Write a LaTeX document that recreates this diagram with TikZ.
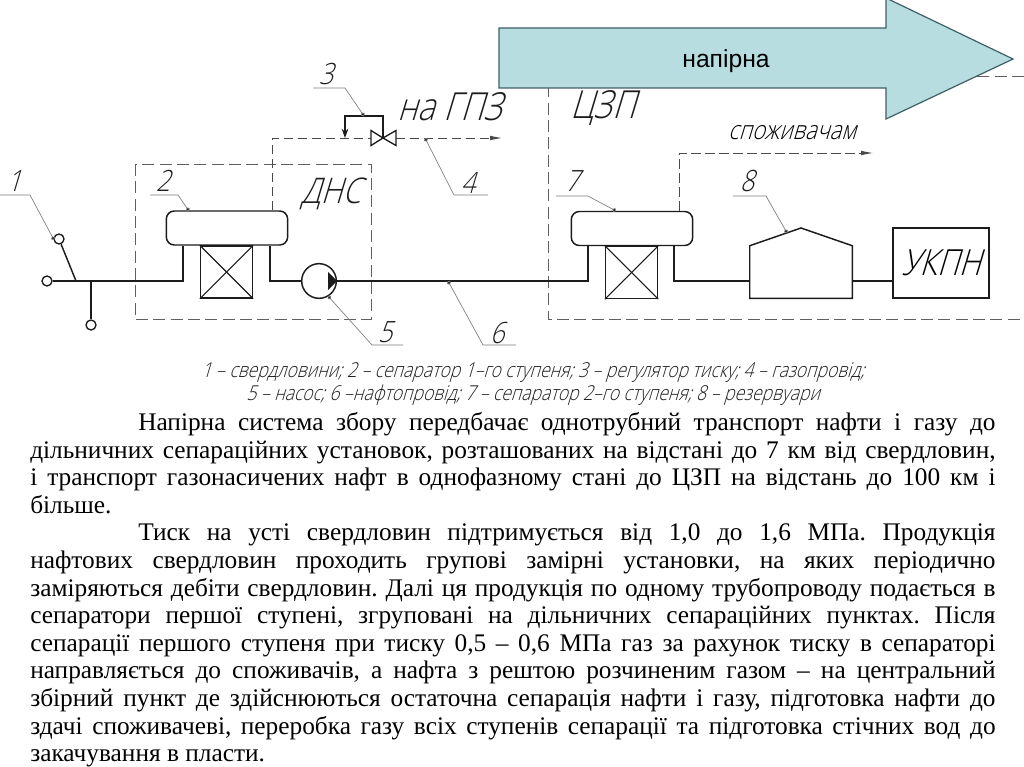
\documentclass[tikz,border=0pt]{standalone}
\usepackage{fontspec}
\setmainfont{Liberation Serif}
\newfontfamily\arialfont{Liberation Sans}
\newfontfamily\cadfont[FakeStretch=0.85,FakeSlant=0.3]{Open Sans Light}
\definecolor{potik}{HTML}{B7DDE0}
\definecolor{rama}{HTML}{3F5F66}
\definecolor{kreslo}{HTML}{1C1C1C}
\definecolor{vynoska}{HTML}{7F7F7F}
\usetikzlibrary{arrows.meta, positioning, calc}
\tikzset{
  pipe/.style={draw=kreslo, line width=1.1pt},
  gasline/.style={draw=kreslo!80, line width=.6pt, dash pattern=on 7pt off 3.5pt, -{Latex[length=9pt,width=3.5pt]}},
  frameline/.style={draw=kreslo!70, line width=.6pt, dash pattern=on 9pt off 4pt},
  leader/.style={draw=vynoska, line width=.5pt, -{Circle[length=3pt,fill=kreslo]}},
  wellhead/.style={circle, draw=kreslo, line width=1pt, fill=white, minimum size=7.5pt, inner sep=0pt},
  drum/.style={draw=kreslo, line width=1.1pt, rounded corners=6pt, minimum width=91pt, minimum height=25.5pt, inner sep=0pt},
  mixbox/.style={draw=kreslo, line width=1.1pt, minimum width=39pt, minimum height=39pt, inner sep=0pt},
  num/.style={font=\cadfont\fontsize{22}{22}\selectfont, text=kreslo, inner sep=0pt},
  cad/.style={font=\cadfont\fontsize{29}{29}\selectfont, text=kreslo, inner sep=0pt}
}
\begin{document}
\begin{tikzpicture}[x=.75pt, y=-.75pt]
\useasboundingbox (0,0) rectangle (1024,767);
\fill[white] (0,0) rectangle (1024,767);

% frames
\coordinate (frameR) at (1024,76);
\coordinate (frameS) at (1024,319);
\draw[frameline] (135,164) rectangle (371,319);
\draw[frameline] (frameR) -| (548,319) -- (frameS);

% wells and the collector
\node[wellhead] (wellA) at (59,239) {};
\node[wellhead] (wellB) at (47,281) {};
\node[wellhead] (wellC) at (91,325) {};
\coordinate (teeA) at (76,281);
\coordinate (teeB) at (91,281);
\coordinate (legA) at (183,281);
\coordinate (legB) at (270,281);
\coordinate (legC) at (588,281);
\coordinate (legD) at (674,281);

% first stage
\node[drum] (sepA) at (227,228) {};
\node[mixbox] (mixA) at (226.5,272) {};
\node[wellhead, line width=1.1pt, minimum size=26pt, fill=none] (pump) at (319,281) {};
\fill[kreslo] (pump.east) -- (328,272) -- (328,290) -- cycle;

% second stage
\node[drum] (sepB) at (632,228.5) {};
\node[mixbox] (mixB) at (631.5,272.5) {};
\node[minimum width=76.5pt, minimum height=39pt, inner sep=0pt] (tank) at (801,272) {};
\coordinate (tankTop) at (801,228);
\draw[pipe] (tank.south west) -- (tank.north west) -- (tankTop) -- (tank.north east) -- (tank.south east) -- cycle;
\node[draw=kreslo, line width=1.1pt, minimum width=72pt, minimum height=52.5pt, inner sep=0pt,
      font=\cadfont\fontsize{27}{27}\selectfont] (ukpn) at (941,263) {УКПН};

\foreach \m in {mixA, mixB} {
  \draw[kreslo, line width=.8pt] (\m.north west) -- (\m.south east);
  \draw[kreslo, line width=.8pt] (\m.south west) -- (\m.north east);
}

% oil line
\draw[pipe] (wellB) -- (legA) -- (legA |- sepA.south);
\draw[pipe] (wellA) -- (teeA);
\draw[pipe] (teeB) -- (wellC);
\draw[pipe] (legB |- sepA.south) -- (legB) -- (pump.west);
\draw[pipe] (pump.east) -- (legC) -- (legC |- sepB.south);
\draw[pipe] (legD |- sepB.south) -- (legD) -- (legD -| tank.west);
\draw[pipe] (legD -| tank.east) -- (legD -| ukpn.west);

% gas lines and regulator
\coordinate (gasA) at (272,138);
\coordinate (gasEnd) at (502,138);
\coordinate (gasB) at (679,153);
\coordinate (gasEndB) at (873,153);
\coordinate (valve) at (383,138);
\coordinate (impulse) at (345,116);
\draw[gasline] (gasA |- sepA.north) -- (gasA) -- (gasEnd);
\draw[gasline] (gasB |- sepB.north) -- (gasB) -- (gasEndB);
\draw[pipe, fill=white, line width=1pt, line join=miter] (valve) -- ++(-12,-7.5) -- ++(0,15) -- (valve) -- ++(13,-7.5) -- ++(0,15) -- cycle;
\draw[pipe, line width=1pt, -{Stealth[length=7pt,width=5pt]}] (valve) -- (valve |- impulse) -- (impulse) -- (impulse |- valve);

% leaders
\coordinate (ldA) at (0,195);   \coordinate (kneeA) at (30,195);
\coordinate (ldB) at (150,195); \coordinate (kneeB) at (178,195);
\coordinate (ldC) at (313,88);  \coordinate (kneeC) at (345,88);
\coordinate (ldD) at (488,195); \coordinate (kneeD) at (454,195);
\coordinate (ldE) at (403,345); \coordinate (kneeE) at (372,345);
\coordinate (ldF) at (516,345); \coordinate (kneeF) at (483,345);
\coordinate (ldG) at (556,196); \coordinate (kneeG) at (588,196);
\coordinate (ldH) at (733,196); \coordinate (kneeH) at (766,196);
\coordinate (onA) at (54,240);
\coordinate (onB) at (189,211);
\coordinate (onC) at (364,116);
\coordinate (onD) at (425,138);
\coordinate (onE) at (328,296);
\coordinate (onF) at (448,281);
\coordinate (onG) at (616,211);
\coordinate (onH) at (787,233);
\foreach \q in {A,...,H}
  \draw[leader] (ld\q) -- (knee\q) -- (on\q);

\node[num] (numA) at (14,181) {1};
\node[num] (numB) at (163,181) {2};
\node[num] (numC) at (326,74) {3};
\node[num] (numD) at (468,183) {4};
\node[num] (numE) at (385,332) {5};
\node[num] (numF) at (497,333) {6};
\node[num] (numG) at (572,181) {7};
\node[num] (numH) at (747,181) {8};

\node[cad, font=\cadfont\fontsize{26.5}{26.5}\selectfont] (dns) at (331,194) {ДНС};
\node[cad] (gpz) at (450,107) {на ГПЗ};
\node[font=\cadfont\fontsize{19.5}{19.5}\selectfont, inner sep=0pt] (consumer) at (792,133) {споживачам};

% big arrow
\draw[draw=rama, line width=.9pt, fill=potik] (499,28) -- (886,28) -- (886,-2) -- (1013,59) -- (886,119) -- (886,88) -- (499,88) -- cycle;
\node[font=\arialfont\fontsize{18.5}{18.5}\selectfont, text=black, inner sep=0pt] (napirna) at (726,61) {напірна};
\node[cad, font=\cadfont\fontsize{29}{29}\selectfont] (czp) at (603,108) {ЦЗП};

% legend
\node[align=center, inner sep=0pt, text=kreslo, font=\cadfont\fontsize{15.4}{17.3}\selectfont] (legenda) at (533,384) {%
  1 – свердловини; 2 – сепаратор 1–го ступеня; 3 – регулятор тиску; 4 – газопровід;\\
  5 – насос; 6 –нафтопровід; 7 – сепаратор 2–го ступеня; 8 – резервуари};

% text
\node[anchor=north west, text width=724pt, inner sep=0pt, align=justify, text=black,
      font=\fontsize{19}{20.7}\selectfont] (opys) at (30,412) {%
  \frenchspacing\setlength{\parindent}{81pt}\indent
  Напірна система збору передбачає однотрубний транспорт нафти і газу до\linebreak
  дільничних сепараційних установок, розташованих на відстані до 7 км від свердловин,\linebreak
  і транспорт газонасичених нафт в однофазному стані до ЦЗП на відстань до 100 км і\linebreak
  більше.\par
  Тиск на усті свердловин підтримується від 1,0 до 1,6 МПа. Продукція\linebreak
  нафтових свердловин проходить групові замірні установки, на яких періодично\linebreak
  заміряються дебіти свердловин. Далі ця продукція по одному трубопроводу подається в\linebreak
  сепаратори першої ступені, згруповані на дільничних сепараційних пунктах. Після\linebreak
  сепарації першого ступеня при тиску 0,5 – 0,6 МПа газ за рахунок тиску в сепараторі\linebreak
  направляється до споживачів, а нафта з рештою розчиненим газом – на центральний\linebreak
  збірний пункт де здійснюються остаточна сепарація нафти і газу, підготовка нафти до\linebreak
  здачі споживачеві, переробка газу всіх ступенів сепарації та підготовка стічних вод до\linebreak
  закачування в пласти.\par};
\end{tikzpicture}
\end{document}
